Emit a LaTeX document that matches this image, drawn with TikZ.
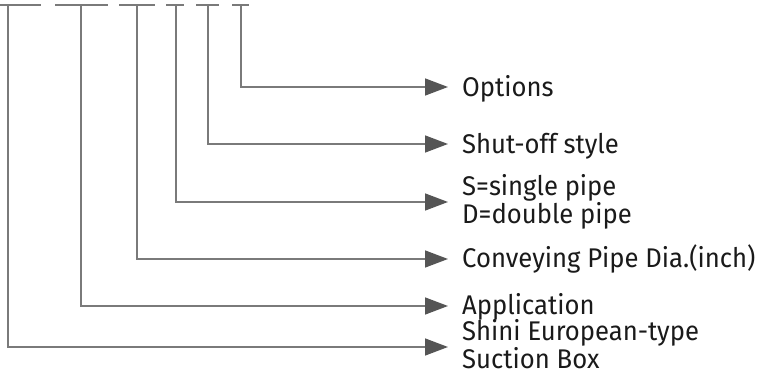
\documentclass[tikz,border=0pt]{standalone}
\usepackage{fontspec}
\setmainfont{Fira Sans}[FakeStretch=0.95]
\usetikzlibrary{arrows.meta}
\definecolor{linegray}{HTML}{7A7A7A}
\definecolor{tipgray}{HTML}{555555}
\definecolor{txt}{HTML}{1A1A1A}
\begin{document}
\begin{tikzpicture}[x=1pt,y=-1pt,
  lbl/.style={anchor=west,inner sep=0pt,text=txt,font=\fontsize{27}{28.5}\selectfont,align=left},
  one/.style={lbl,text height=19pt,text depth=0pt},
  bar/.style={draw=linegray,line width=1.5pt},
  conn/.style={draw=linegray,line width=1.5pt,-{Triangle[length=23pt,width=17pt,color=tipgray]}}]
\useasboundingbox (0,0) rectangle (764,374);
% top segments
\coordinate (b1l) at (0,5);   \coordinate (b1r) at (41,5);
\coordinate (b2l) at (55,5);  \coordinate (b2r) at (108,5);
\coordinate (b3l) at (119,5); \coordinate (b3r) at (155,5);
\coordinate (b4l) at (166,5); \coordinate (b4r) at (184,5);
\coordinate (b5l) at (196,5); \coordinate (b5r) at (219,5);
\coordinate (b6l) at (232,5); \coordinate (b6r) at (249,5);
\draw[bar] (b1l) -- (b1r);
\draw[bar] (b2l) -- (b2r);
\draw[bar] (b3l) -- (b3r);
\draw[bar] (b4l) -- (b4r);
\draw[bar] (b5l) -- (b5r);
\draw[bar] (b6l) -- (b6r);
\coordinate (v1) at (8,5);
\coordinate (v2) at (81,5);
\coordinate (v3) at (137,5);
\coordinate (v4) at (176,5);
\coordinate (v5) at (208,5);
\coordinate (v6) at (241,5);
% labels
\node[one] (l6) at (462,87) {Options};
\node[one] (l5) at (462,144) {Shut-off style};
\node[lbl] (l4) at (462,202) {S=single pipe\\D=double pipe};
\node[one] (l3) at (462,258) {Conveying Pipe Dia.(inch)};
\node[one] (l2) at (462,305) {Application};
\node[lbl] (l1) at (462,344) {Shini European-type\\Suction Box};
% connectors
\draw[conn] (v6) |- ([xshift=-14pt]l6.west);
\draw[conn] (v5) |- ([xshift=-14pt]l5.west);
\draw[conn] (v4) |- ([xshift=-14pt]l4.west);
\draw[conn] (v3) |- ([xshift=-14pt,yshift=-1pt]l3.west);
\draw[conn] (v2) |- ([xshift=-14pt,yshift=-1pt]l2.west);
\draw[conn] (v1) |- ([xshift=-14pt,yshift=-3pt]l1.west);
\end{tikzpicture}
\end{document}
